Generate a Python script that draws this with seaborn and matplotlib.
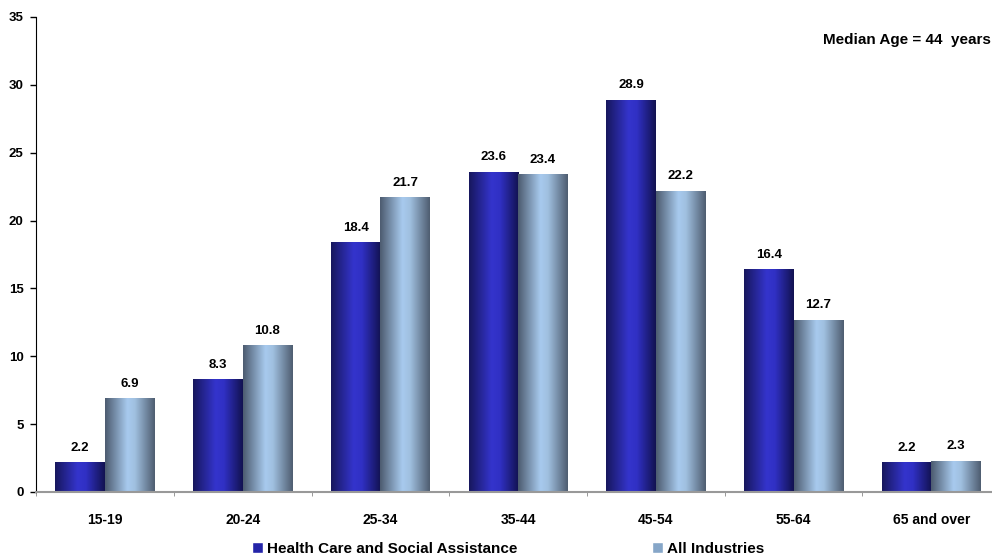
import numpy as np
import pandas as pd
import seaborn as sns
import matplotlib.pyplot as plt
from matplotlib.colors import LinearSegmentedColormap, to_hex
from matplotlib.patches import Patch

age_groups = ["15-19", "20-24", "25-34", "35-44", "45-54", "55-64", "65 and over"]
health_care = [2.2, 8.3, 18.4, 23.6, 28.9, 16.4, 2.2]
all_industries = [6.9, 10.8, 21.7, 23.4, 22.2, 12.7, 2.3]
series_names = ["Health Care and Social Assistance", "All Industries"]

df = pd.DataFrame({
    "age": age_groups * 2,
    "pct": health_care + all_industries,
    "series": [series_names[0]] * len(age_groups) + [series_names[1]] * len(age_groups),
})

sns.set_style("white")
plt.rcParams["font.family"] = ["Liberation Sans", "DejaVu Sans"]
plt.rcParams["text.color"] = "black"
plt.rcParams["xtick.color"] = "black"
plt.rcParams["ytick.color"] = "black"

base = {series_names[0]: "#3232c8", series_names[1]: "#a6c8ec"}
# horizontal shading: dark edges, bright just left of centre
grads = {
    "#3232c8": LinearSegmentedColormap.from_list(
        "hc", [(0, "#17175c"), (0.45, "#3434cc"), (0.62, "#3030c4"), (1, "#121250")]),
    "#a6c8ec": LinearSegmentedColormap.from_list(
        "ai", [(0, "#4c5b6f"), (0.45, "#a8caee"), (0.6, "#a0c0e0"), (1, "#4e5d70")]),
}

fig = plt.figure(figsize=(9.92, 5.59), dpi=100)
ax = fig.add_axes([0.0363, 0.1199, 0.972, 0.8497])

sns.barplot(data=df, x="age", y="pct", hue="series", palette=base,
            width=0.72, gap=0, legend=False, ax=ax, saturation=1)

row = np.linspace(0, 1, 256)[np.newaxis, :]
for bar in list(ax.patches):
    key = to_hex(bar.get_facecolor())
    x, y, w, h = bar.get_x(), bar.get_y(), bar.get_width(), bar.get_height()
    img = ax.imshow(row, extent=[x, x + w, y, y + h], cmap=grads[key],
                    aspect="auto", zorder=2, interpolation="bicubic")
    img.set_clip_path(bar)
    bar.set_facecolor("none")
    bar.set_edgecolor("none")
ax.set_xlim(-0.5, len(age_groups) - 0.5)
ax.set_ylim(0, 35)

for c in ax.containers:
    ax.bar_label(c, fmt="%.1f", padding=6, fontsize=9.5, fontweight="bold", zorder=3)

ax.set_yticks(range(0, 36, 5))
ax.set_xlabel("")
ax.set_ylabel("")
ax.tick_params(axis="y", length=4, width=1, direction="out",
               labelsize=9.5, left=True, pad=5)
ax.tick_params(axis="x", length=0, labelsize=10, pad=15)
for lab in ax.get_xticklabels() + ax.get_yticklabels():
    lab.set_fontweight("bold")
ax.set_xticks(np.arange(-0.5, len(age_groups)), minor=True)
ax.tick_params(axis="x", which="minor", length=3, color="#888888", bottom=True)

for s in ["top", "right"]:
    ax.spines[s].set_visible(False)
ax.spines["left"].set_color("black")
ax.spines["bottom"].set_color("#999999")
ax.spines["bottom"].set_linewidth(1.5)

ax.text(0.999, 0.928, "Median Age = 44  years", transform=fig.transFigure,
        ha="right", va="center", fontsize=11, fontweight="bold")

handles = [Patch(facecolor="#2424a8"), Patch(facecolor="#86a6c8")]
leg = fig.legend(handles, series_names, loc="center", bbox_to_anchor=(0.512, 0.018),
                 ncol=2, frameon=False, fontsize=11, handlelength=0.75,
                 handleheight=0.75, handletextpad=0.25, columnspacing=8.8)
for t in leg.get_texts():
    t.set_fontweight("bold")

fig.savefig("out.png", dpi=100)
